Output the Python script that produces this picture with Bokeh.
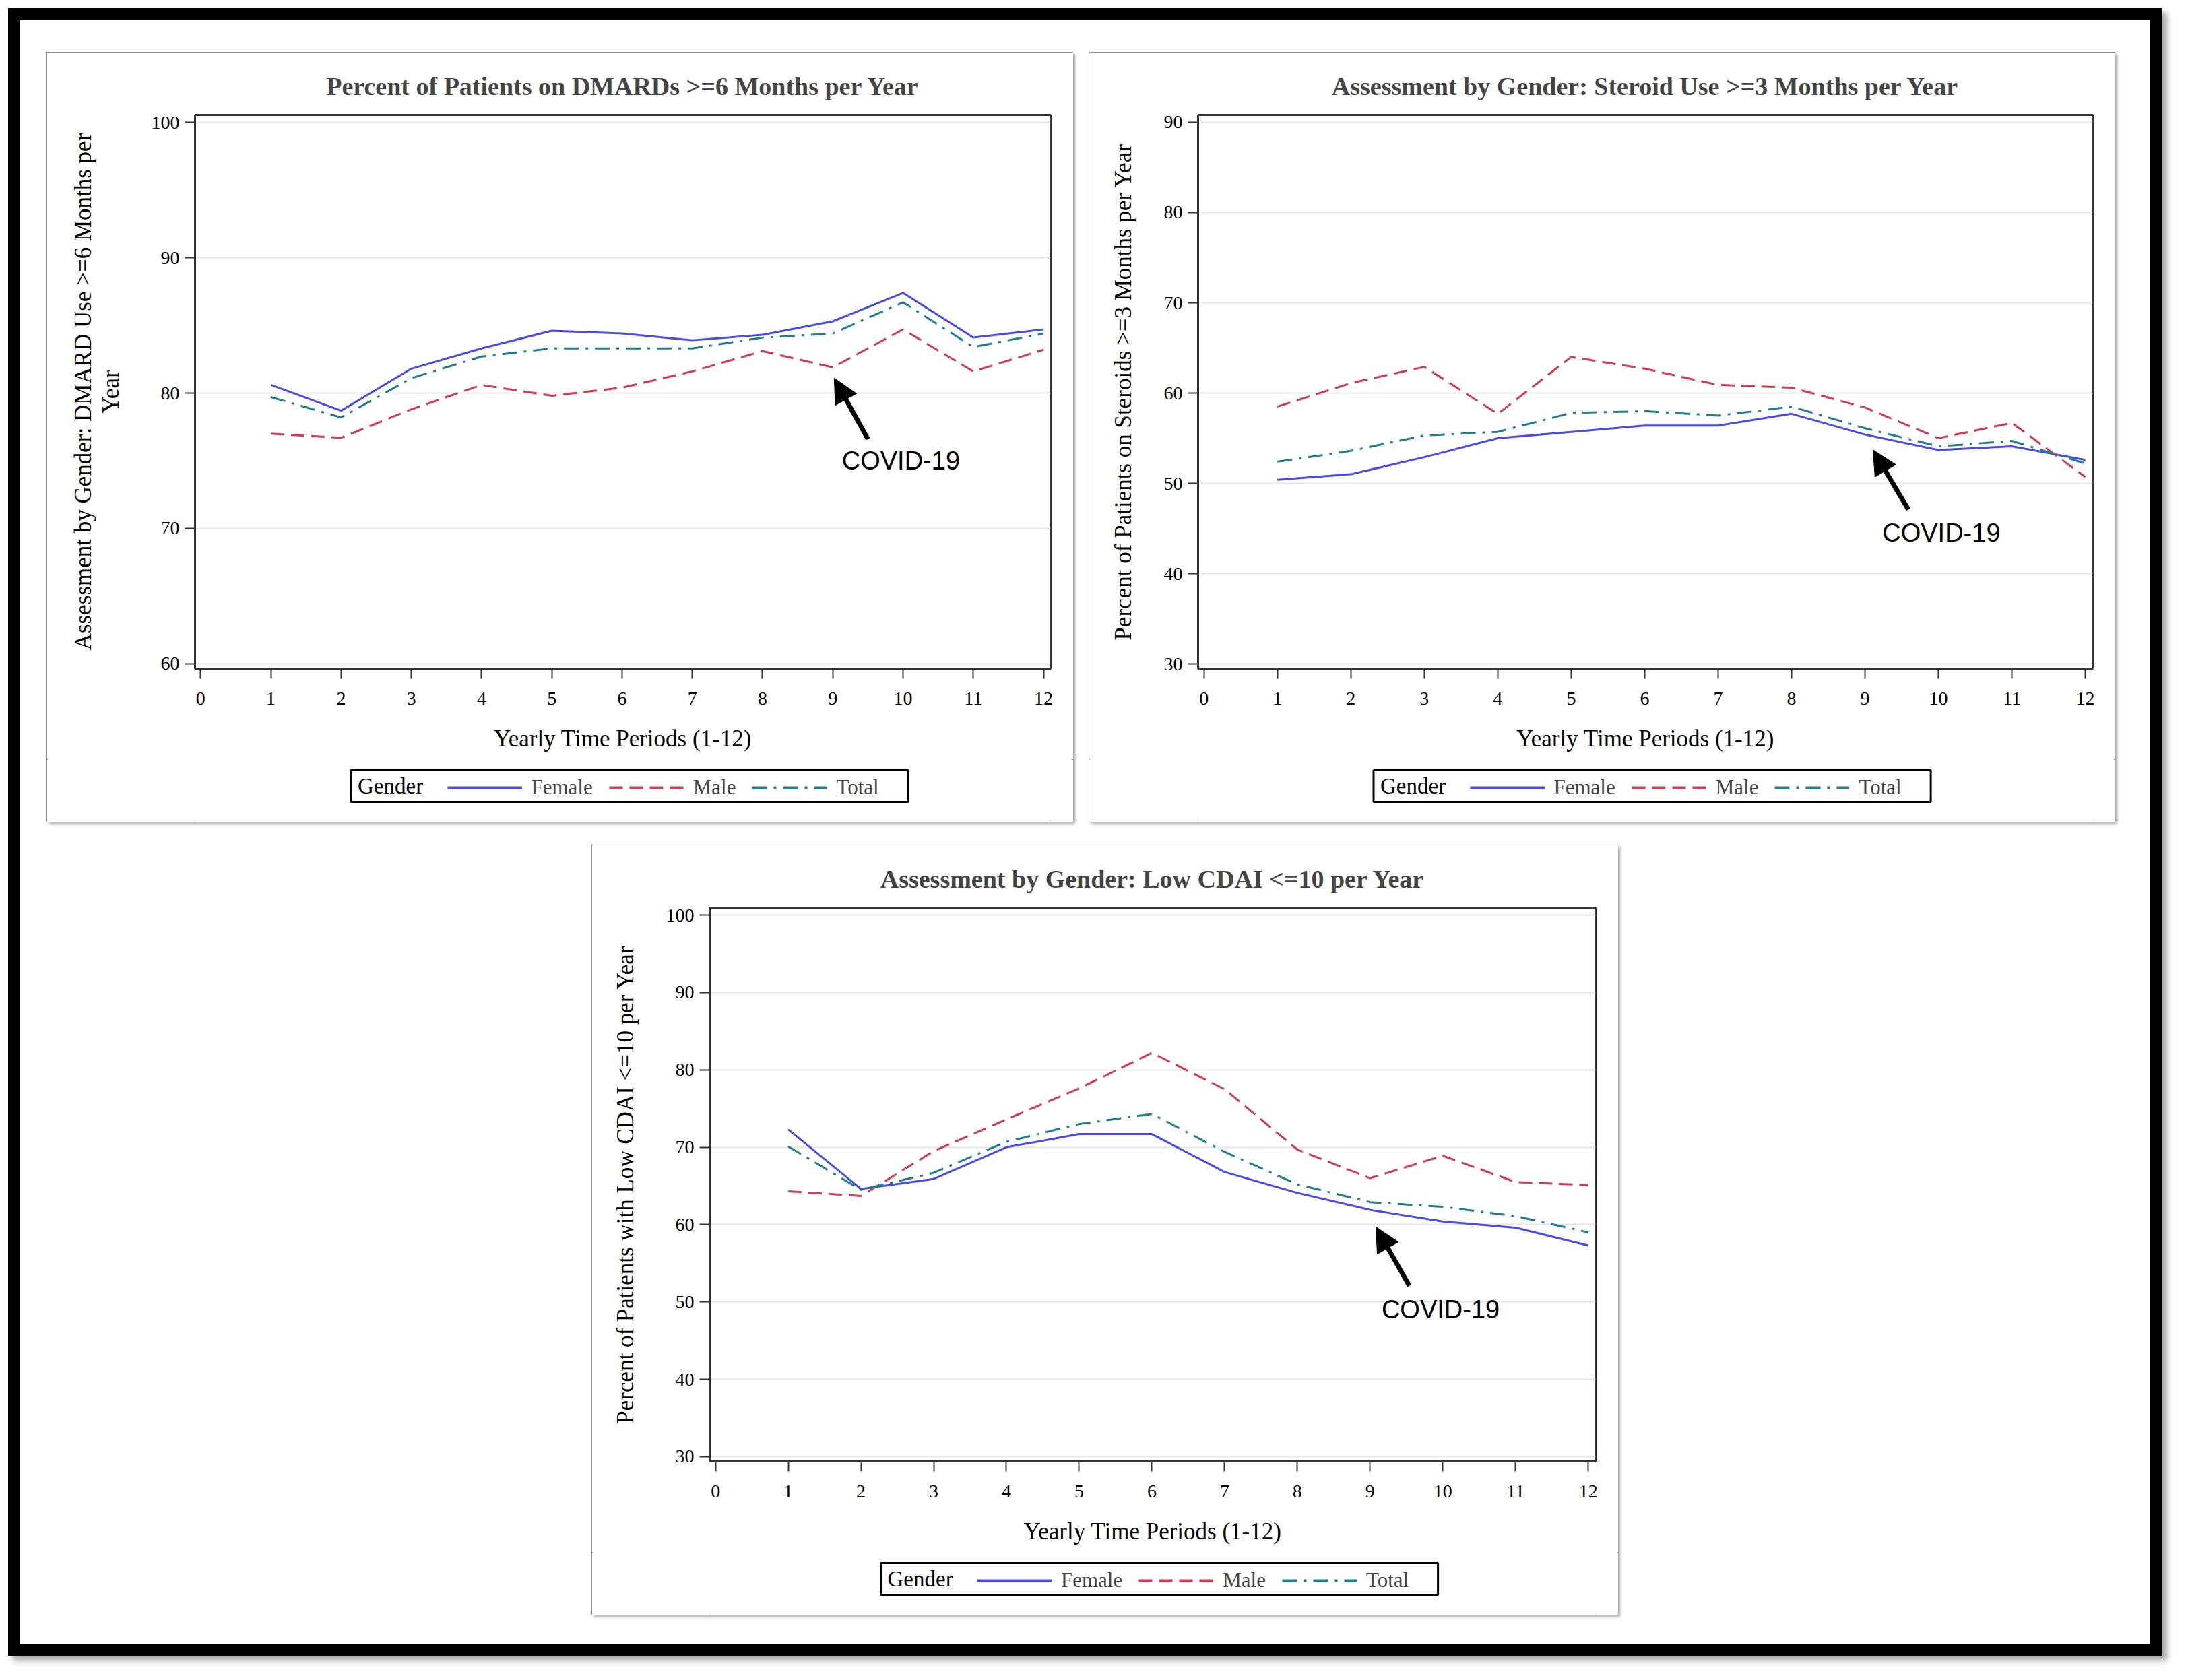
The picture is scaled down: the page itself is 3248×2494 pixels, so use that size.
from bokeh.plotting import figure
from bokeh.models import FixedTicker, Legend, LegendItem, Arrow, NormalHead, Label, Range1d
from bokeh.layouts import row, column
from bokeh.embed import file_html
from bokeh.resources import INLINE

# ---------------- data ----------------
periods = [1, 2, 3, 4, 5, 6, 7, 8, 9, 10, 11, 12]
x_ticks = [0, 1, 2, 3, 4, 5, 6, 7, 8, 9, 10, 11, 12]

dmard_female = [80.6, 78.7, 81.8, 83.3, 84.6, 84.4, 83.9, 84.3, 85.3, 87.4, 84.1, 84.7]
dmard_male = [77.0, 76.7, 78.8, 80.6, 79.8, 80.4, 81.6, 83.1, 81.9, 84.7, 81.6, 83.2]
dmard_total = [79.7, 78.2, 81.1, 82.7, 83.3, 83.3, 83.3, 84.1, 84.4, 86.7, 83.4, 84.4]
dmard_yticks = [60, 70, 80, 90, 100]

steroid_female = [50.4, 51.0, 52.9, 55.0, 55.7, 56.4, 56.4, 57.7, 55.4, 53.7, 54.1, 52.6]
steroid_male = [58.5, 61.1, 62.9, 57.7, 64.0, 62.7, 60.9, 60.6, 58.4, 55.0, 56.7, 50.7]
steroid_total = [52.4, 53.6, 55.3, 55.7, 57.8, 58.0, 57.5, 58.5, 56.1, 54.1, 54.7, 52.2]
steroid_yticks = [30, 40, 50, 60, 70, 80, 90]

cdai_female = [72.3, 64.6, 65.9, 70.0, 71.7, 71.7, 66.8, 64.1, 61.9, 60.4, 59.6, 57.3]
cdai_male = [64.3, 63.7, 69.5, 73.6, 77.6, 82.2, 77.5, 69.7, 66.0, 68.9, 65.5, 65.1]
cdai_total = [70.1, 64.5, 66.7, 70.7, 73.0, 74.3, 69.4, 65.2, 62.9, 62.3, 61.1, 59.0]
cdai_yticks = [30, 40, 50, 60, 70, 80, 90, 100]

series_labels = ["Female", "Male", "Total"]
legend_title = "Gender"
x_label = "Yearly Time Periods (1-12)"
note_text = "COVID-19"

# annotation anchors (data units): arrow tip, arrow tail, note centre
dmard_arrow = [(9.02, 81.1), (9.50, 76.6), (9.97, 75.0)]
steroid_arrow = [(9.11, 53.7), (9.59, 47.1), (10.04, 44.5)]
cdai_arrow = [(9.08, 59.7), (9.54, 52.1), (9.97, 49.0)]

FEMALE = "#4B4BE8"
MALE = "#D23A55"
TOTAL = "#1F7F8C"
SERIF = "Liberation Serif"
DASH_MALE = "20 10"
DASH_TOTAL = "22 10 4 10"

PANEL_W = 1524
MAIN_H, LEG_H = 1050, 93
BORDER_R, BORDER_T, BORDER_B = 34, 93, 135
BOX_W, BOX_H = 827, 49
BOX_BOTTOM = 29            # legend box bottom above the legend strip bottom (px)
GENDER_W = 97


def make_panel(title, ylabel, y_ticks, y_lo, y_hi, f, m, t, arrow, left):
    p = figure(width=PANEL_W, height=MAIN_H, x_range=Range1d(-0.08, 12.1),
               y_range=Range1d(y_lo, y_hi), output_backend="svg",
               toolbar_location=None, min_border_left=left, min_border_right=BORDER_R,
               min_border_top=BORDER_T, min_border_bottom=BORDER_B, title=title)
    p.title.text_font = SERIF
    p.title.text_font_size = "38px"
    p.title.text_font_style = "bold"
    p.title.align = "center"
    p.title.standoff = 44

    p.xaxis.ticker = FixedTicker(ticks=x_ticks)
    p.yaxis.ticker = FixedTicker(ticks=y_ticks)
    p.xaxis.axis_label = x_label
    p.yaxis.axis_label = ylabel
    for ax in (p.xaxis, p.yaxis):
        ax.axis_label_text_font = SERIF
        ax.axis_label_text_font_size = "35px"
        ax.axis_label_text_font_style = "normal"
        ax.axis_label_text_color = "black"
        ax.major_label_text_font = SERIF
        ax.major_label_text_font_size = "28px"
        ax.major_label_text_color = "black"
        ax.axis_line_color = "#333333"
        ax.axis_line_width = 3
        ax.major_tick_line_color = "#333333"
        ax.major_tick_line_width = 2
        ax.major_tick_out = 15
        ax.major_tick_in = 0
        ax.minor_tick_line_color = None
    p.xaxis.major_label_standoff = 20
    p.xaxis.axis_label_standoff = 28
    p.yaxis.major_label_standoff = 8
    p.yaxis.axis_label_standoff = 38
    p.yaxis.axis_label_text_line_height = 1.05

    p.xgrid.visible = False
    p.ygrid.grid_line_color = "#E6E6E6"
    p.ygrid.grid_line_width = 2
    p.outline_line_color = "#333333"
    p.outline_line_width = 3

    p.line(periods, f, line_color=FEMALE, line_width=3)
    p.line(periods, m, line_color=MALE, line_width=3, line_dash=DASH_MALE)
    p.line(periods, t, line_color=TOTAL, line_width=3, line_dash=DASH_TOTAL)

    tip, tail, note = arrow
    p.add_layout(Arrow(end=NormalHead(size=36, fill_color="black", line_color="black"),
                       x_start=tail[0], y_start=tail[1], x_end=tip[0], y_end=tip[1],
                       line_width=7, line_color="black"))
    p.add_layout(Label(x=note[0], y=note[1], text=note_text, text_font="Liberation Sans",
                       text_font_size="38px", text_align="center", text_baseline="middle",
                       text_color="black"))

    # legend strip (separate canvas below the plot, same panel; frames align in column)
    lf = figure(width=PANEL_W, height=LEG_H, x_range=Range1d(-3, -2), y_range=Range1d(-3, -2),
                output_backend="svg", toolbar_location=None, min_border_left=left,
                min_border_right=BORDER_R, min_border_top=0, min_border_bottom=0,
                x_axis_location=None, y_axis_location=None)
    lf.grid.visible = False
    lf.outline_line_color = None
    lf_f = lf.line(periods, f, line_color=FEMALE, line_width=4)
    lf_m = lf.line(periods, m, line_color=MALE, line_width=4, line_dash=DASH_MALE)
    lf_t = lf.line(periods, t, line_color=TOTAL, line_width=4, line_dash=DASH_TOTAL)

    frame_w = PANEL_W - left - BORDER_R
    box_left = (frame_w - BOX_W) / 2.0
    lf.add_layout(Label(x=box_left + 10, y=BOX_BOTTOM + BOX_H / 2.0, x_units="screen",
                        y_units="screen", text=legend_title, text_font=SERIF,
                        text_font_size="33px", text_align="left", text_baseline="middle",
                        text_color="black", border_line_color="black", border_line_width=3,
                        background_fill_color="white",
                        padding=(10, BOX_W - 10 - GENDER_W, 5, 6)))
    legend = Legend(items=[LegendItem(label=series_labels[0], renderers=[lf_f]),
                           LegendItem(label=series_labels[1], renderers=[lf_m]),
                           LegendItem(label=series_labels[2], renderers=[lf_t])],
                    orientation="horizontal",
                    location=(box_left + 153, BOX_BOTTOM + 4))
    legend.label_text_font = SERIF
    legend.label_text_font_size = "31px"
    legend.glyph_width = 111
    legend.glyph_height = 24
    legend.label_standoff = 14
    legend.spacing = 24
    legend.padding = 6
    legend.margin = 0
    legend.border_line_color = None
    legend.background_fill_alpha = 0
    lf.add_layout(legend)

    panel = column(p, lf)
    panel.styles = {"outline": "2px solid #6a6a6a", "outline-offset": "-2px",
                    "box-shadow": "3px 3px 4px rgba(0,0,0,0.35)"}
    return panel


c1 = make_panel("Percent of Patients on DMARDs >=6 Months per Year",
                "Assessment by Gender: DMARD Use >=6 Months per\nYear",
                dmard_yticks, 59.65, 100.55, dmard_female, dmard_male, dmard_total,
                dmard_arrow, 220)
c2 = make_panel("Assessment by Gender: Steroid Use >=3 Months per Year",
                "Percent of Patients on Steroids >=3 Months per Year",
                steroid_yticks, 29.48, 90.82, steroid_female, steroid_male, steroid_total,
                steroid_arrow, 162)
c3 = make_panel("Assessment by Gender: Low CDAI <=10 per Year",
                "Percent of Patients with Low CDAI <=10 per Year",
                cdai_yticks, 29.39, 100.96, cdai_female, cdai_male, cdai_total,
                cdai_arrow, 175)

c1.margin = (65, 0, 0, 57)
c2.margin = (65, 0, 0, 23)
c3.margin = (34, 0, 0, 866)

outer = column(row(c1, c2), row(c3), width=3198, height=2446)
outer.margin = (12, 0, 0, 12)
outer.styles = {"outline": "18px solid black", "outline-offset": "-18px",
                "box-shadow": "7px 7px 9px rgba(0,0,0,0.35)"}

open("out.html", "w").write(file_html(outer, INLINE))
